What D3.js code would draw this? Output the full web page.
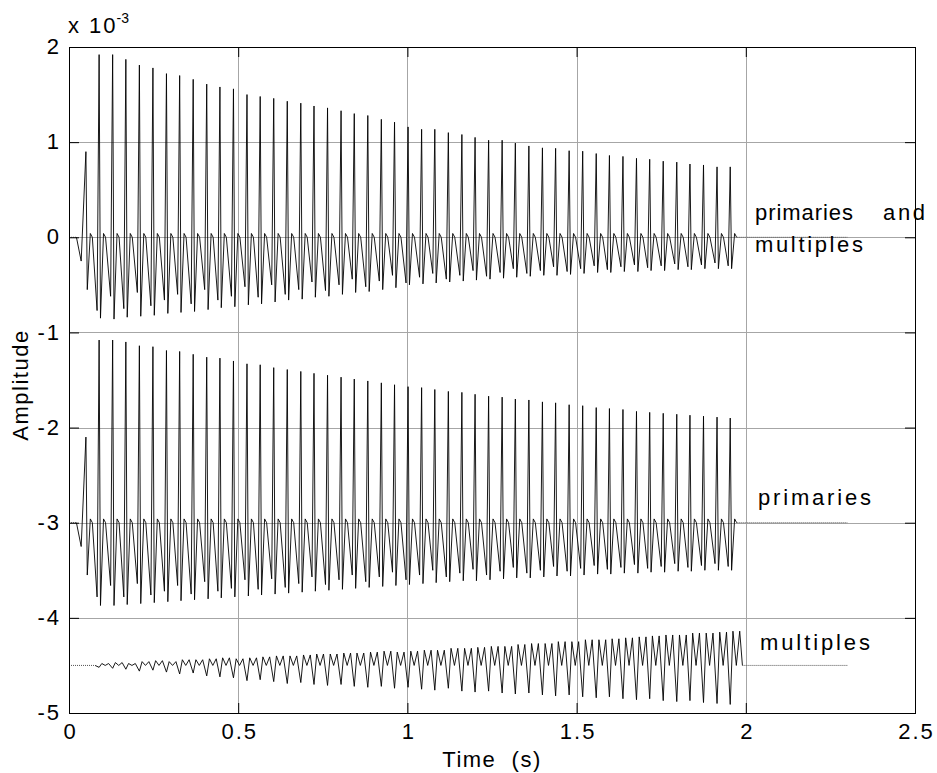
<!DOCTYPE html>
<html>
<head>
<meta charset="utf-8">
<script src="https://cdn.jsdelivr.net/npm/d3@7"></script>
<style>
  body { margin: 0; background: #fff; }
  text { font-family: "Liberation Sans", Arial, Helvetica, sans-serif; fill: #000; }
</style>
</head>
<body>
<svg id="chart" width="937" height="773"></svg>
<script>
// ---- data (amplitudes in units of 1e-3) ----
const xTicks = [0, 0.5, 1, 1.5, 2, 2.5];
const xTickLabels = ["0", "0.5", "1", "1.5", "2", "2.5"];
const yTicks = [-5, -4, -3, -2, -1, 0, 1, 2];
const yTickLabels = ["-5", "-4", "-3", "-2", "-1", "0", "1", "2"];

// arrival time of each reverberation spike (s)
const spikeTimes = [0.050, 0.089, 0.129, 0.168, 0.208, 0.248, 0.288, 0.327, 0.367, 0.407,
  0.446, 0.486, 0.526, 0.565, 0.605, 0.645, 0.685, 0.724, 0.764, 0.804,
  0.843, 0.883, 0.923, 0.962, 1.002, 1.042, 1.081, 1.121, 1.161, 1.200,
  1.240, 1.280, 1.319, 1.359, 1.399, 1.438, 1.478, 1.518, 1.558, 1.597,
  1.637, 1.677, 1.716, 1.756, 1.796, 1.835, 1.875, 1.915, 1.954];

// primaries and multiples: spike peak, trough after the spike, trough before the spike
const mixedPeak = [0.90, 1.92, 1.92, 1.87, 1.81, 1.78, 1.72, 1.70, 1.66, 1.61,
  1.58, 1.56, 1.50, 1.48, 1.46, 1.43, 1.41, 1.38, 1.36, 1.33,
  1.30, 1.28, 1.24, 1.21, 1.16, 1.135, 1.135, 1.10, 1.08, 1.05,
  1.02, 1.02, 0.99, 0.96, 0.94, 0.935, 0.91, 0.905, 0.88, 0.86,
  0.85, 0.83, 0.82, 0.80, 0.79, 0.77, 0.76, 0.74, 0.74];
const mixedTroughAfter = [-0.55, -0.85, -0.86, -0.84, -0.83, -0.82, -0.80, -0.79, -0.78, -0.76,
  -0.74, -0.73, -0.71, -0.70, -0.68, -0.66, -0.65, -0.63, -0.62, -0.60,
  -0.58, -0.57, -0.55, -0.53, -0.50, -0.49, -0.48, -0.47, -0.46, -0.45,
  -0.44, -0.43, -0.42, -0.41, -0.40, -0.40, -0.39, -0.38, -0.37, -0.37,
  -0.36, -0.36, -0.35, -0.35, -0.34, -0.34, -0.33, -0.33, -0.33];
const mixedTroughBefore = [-0.25, -0.77, -0.62, -0.75, -0.58, -0.72, -0.66, -0.60, -0.70, -0.55,
  -0.66, -0.62, -0.52, -0.63, -0.50, -0.60, -0.55, -0.47, -0.56, -0.50,
  -0.44, -0.52, -0.46, -0.40, -0.48, -0.42, -0.38, -0.44, -0.40, -0.35,
  -0.41, -0.37, -0.33, -0.38, -0.35, -0.31, -0.36, -0.33, -0.30, -0.34,
  -0.31, -0.29, -0.32, -0.30, -0.28, -0.31, -0.29, -0.27, -0.30];

// primaries only
const primPeak = [0.90, 1.92, 1.92, 1.90, 1.86, 1.85, 1.81, 1.80, 1.77, 1.74,
  1.73, 1.70, 1.67, 1.66, 1.63, 1.61, 1.59, 1.57, 1.55, 1.53,
  1.51, 1.49, 1.47, 1.45, 1.43, 1.42, 1.40, 1.38, 1.37, 1.35,
  1.33, 1.32, 1.30, 1.29, 1.27, 1.26, 1.24, 1.23, 1.21, 1.20,
  1.19, 1.17, 1.16, 1.15, 1.14, 1.13, 1.12, 1.11, 1.10];
const primTroughAfter = [-0.55, -0.87, -0.87, -0.86, -0.85, -0.84, -0.83, -0.82, -0.81, -0.80,
  -0.79, -0.78, -0.77, -0.76, -0.75, -0.74, -0.73, -0.72, -0.71, -0.70,
  -0.69, -0.68, -0.67, -0.66, -0.65, -0.64, -0.63, -0.62, -0.61, -0.61,
  -0.60, -0.59, -0.58, -0.58, -0.57, -0.56, -0.56, -0.55, -0.54, -0.54,
  -0.53, -0.53, -0.52, -0.52, -0.51, -0.51, -0.50, -0.50, -0.50];
const primTroughBefore = [-0.25, -0.78, -0.66, -0.78, -0.64, -0.76, -0.72, -0.66, -0.75, -0.62,
  -0.72, -0.69, -0.60, -0.70, -0.59, -0.68, -0.64, -0.57, -0.65, -0.60,
  -0.55, -0.62, -0.57, -0.52, -0.60, -0.55, -0.50, -0.57, -0.53, -0.49,
  -0.55, -0.51, -0.47, -0.53, -0.50, -0.46, -0.51, -0.48, -0.45, -0.49,
  -0.47, -0.44, -0.48, -0.46, -0.43, -0.47, -0.45, -0.43, -0.46];

// multiples only: dip at each spike time, hump between spikes
const multDown = [0, -0.02, -0.03, -0.04, -0.06, -0.05, -0.07, -0.09, -0.08, -0.11,
  -0.12, -0.13, -0.16, -0.15, -0.17, -0.19, -0.18, -0.20, -0.21, -0.20,
  -0.22, -0.23, -0.22, -0.24, -0.23, -0.25, -0.26, -0.24, -0.27, -0.28,
  -0.27, -0.29, -0.30, -0.29, -0.31, -0.32, -0.31, -0.33, -0.34, -0.33,
  -0.35, -0.36, -0.35, -0.37, -0.38, -0.37, -0.39, -0.40, -0.41];
const multUp = [0, 0.02, 0.03, 0.02, 0.04, 0.05, 0.04, 0.06, 0.06, 0.07,
  0.08, 0.07, 0.08, 0.09, 0.10, 0.10, 0.11, 0.12, 0.12, 0.13,
  0.13, 0.14, 0.15, 0.14, 0.15, 0.16, 0.16, 0.18, 0.18, 0.19,
  0.20, 0.20, 0.22, 0.23, 0.23, 0.25, 0.25, 0.27, 0.27, 0.28,
  0.29, 0.30, 0.31, 0.32, 0.32, 0.34, 0.34, 0.35, 0.36];

const traceOffsets = { mixed: 0, primaries: -3, multiples: -4.5 };
const recordEnd = 2.3;

// ---- layout ----
const plot = { left: 69, right: 915, top: 47, bottom: 713 };
const svg = d3.select("#chart");
const x = d3.scaleLinear().domain([0, 2.5]).range([plot.left, plot.right]);
const y = d3.scaleLinear().domain([-5, 2]).range([plot.bottom, plot.top]);
const FONT = 22;

// ---- grid ----
const grid = svg.append("g").attr("stroke", "#a6a6a6").attr("stroke-width", 1);
grid.selectAll("line.vx").data(xTicks.slice(1, -1)).join("line")
  .attr("x1", d => Math.round(x(d)) + 0.5).attr("x2", d => Math.round(x(d)) + 0.5)
  .attr("y1", plot.top).attr("y2", plot.bottom);
grid.selectAll("line.hy").data(yTicks.slice(1, -1)).join("line")
  .attr("y1", d => Math.round(y(d)) + 0.5).attr("y2", d => Math.round(y(d)) + 0.5)
  .attr("x1", plot.left).attr("x2", plot.right);

// ---- traces ----
// spike cycle: trough before -> peak -> trough after -> small hook -> zero
function spikeTrace(peak, after, before) {
  const pts = [{ t: 0, v: 0 }, { t: spikeTimes[0] - 0.028, v: 0 }];
  spikeTimes.forEach((s, k) => {
    pts.push({ t: s - (k === 0 ? 0.014 : 0.006), v: before[k] });
    pts.push({ t: s, v: peak[k] });
    pts.push({ t: s + 0.004, v: after[k] });
    pts.push({ t: s + 0.013, v: 0.04 });
    pts.push({ t: s + 0.019, v: 0 });
  });
  return pts;
}
function multipleTrace(down, up) {
  const pts = [{ t: 0, v: 0 }, { t: spikeTimes[1] - 0.012, v: 0 }];
  spikeTimes.forEach((s, k) => {
    if (k === 0) return;
    pts.push({ t: s, v: down[k] });
    pts.push({ t: s + 0.008, v: up[k] });
    pts.push({ t: s + 0.018, v: 0 });
    pts.push({ t: s + 0.028, v: up[k] });
  });
  pts.push({ t: spikeTimes[spikeTimes.length - 1] + 0.036, v: 0 });
  return pts;
}

const traces = [
  { name: "mixed", pts: spikeTrace(mixedPeak, mixedTroughAfter, mixedTroughBefore) },
  { name: "primaries", pts: spikeTrace(primPeak, primTroughAfter, primTroughBefore) },
  { name: "multiples", pts: multipleTrace(multDown, multUp) }
];

const g = svg.append("g");
traces.forEach(tr => {
  const off = traceOffsets[tr.name];
  const line = d3.line().x(d => x(d.t)).y(d => y(d.v + off));
  const pts = tr.pts;
  const last = pts[pts.length - 1];
  // quiet leading segment
  g.append("path").attr("d", line([pts[0], pts[1]]))
    .attr("fill", "none").attr("stroke", "#555").attr("stroke-width", 1)
    .attr("stroke-dasharray", "1,1");
  g.append("path").attr("d", line(pts.slice(1)))
    .attr("fill", "none").attr("stroke", "#000").attr("stroke-width", 0.9);
  // quiet trailing segment
  g.append("path").attr("d", line([last, { t: recordEnd, v: 0 }]))
    .attr("fill", "none").attr("stroke", "#555").attr("stroke-width", 1)
    .attr("stroke-dasharray", "1,1");
});

// ---- axes (inward ticks on all four sides) ----
const tick = 10;
const axBottom = svg.append("g").attr("transform", `translate(0,${plot.bottom})`)
  .call(d3.axisBottom(x).tickValues(xTicks).tickSizeInner(-tick).tickSizeOuter(0)
    .tickPadding(10).tickFormat((d, i) => xTickLabels[i]));
const axTop = svg.append("g").attr("transform", `translate(0,${plot.top})`)
  .call(d3.axisTop(x).tickValues(xTicks).tickSizeInner(-tick).tickSizeOuter(0).tickFormat(""));
const axLeft = svg.append("g").attr("transform", `translate(${plot.left},0)`)
  .call(d3.axisLeft(y).tickValues(yTicks).tickSizeInner(-tick).tickSizeOuter(0)
    .tickPadding(10).tickFormat((d, i) => yTickLabels[i]));
const axRight = svg.append("g").attr("transform", `translate(${plot.right},0)`)
  .call(d3.axisRight(y).tickValues(yTicks).tickSizeInner(-tick).tickSizeOuter(0).tickFormat(""));
[axBottom, axTop, axLeft, axRight].forEach(a => {
  a.select(".domain").remove();
  a.selectAll("line").attr("stroke", "#000");
  a.selectAll("text").attr("font-size", FONT).attr("font-family", null)
    .attr("letter-spacing", 2);
});
// keep centred labels centred despite the trailing letter gap
axBottom.selectAll("text").attr("dx", 1);
axLeft.selectAll("text").attr("dx", 2).attr("dy", "0.3em");

svg.append("rect").attr("x", plot.left + 0.5).attr("y", plot.top + 0.5)
  .attr("width", plot.right - plot.left).attr("height", plot.bottom - plot.top)
  .attr("fill", "none").attr("stroke", "#000").attr("stroke-width", 1);

// ---- labels ----
const expo = svg.append("text").attr("x", 68).attr("y", 33).attr("font-size", FONT)
  .attr("letter-spacing", 2);
expo.append("tspan").text("x 10");
expo.append("tspan").attr("dx", -1).attr("dy", -10).attr("font-size", 14)
  .attr("letter-spacing", 0).text("-3");

svg.append("text").attr("transform", `translate(28,385) rotate(-90)`)
  .attr("text-anchor", "middle").attr("font-size", FONT).attr("letter-spacing", 1.5)
  .text("Amplitude");
svg.append("text").attr("x", (plot.left + plot.right) / 2).attr("y", 767)
  .attr("text-anchor", "middle").attr("font-size", FONT).attr("letter-spacing", 1.5)
  .style("white-space", "pre").text("Time  (s)");

// trace annotations
const notes = [
  { text: "primaries", x: 755, y: 220, len: 98 },
  { text: "and", x: 883, y: 220, len: 42 },
  { text: "multiples", x: 755, y: 252, len: 108 },
  { text: "primaries", x: 758, y: 505, len: 113 },
  { text: "multiples", x: 760, y: 650, len: 110 }
];
svg.selectAll("text.note").data(notes).join("text").attr("class", "note")
  .attr("x", d => d.x).attr("y", d => d.y).attr("font-size", FONT)
  .attr("textLength", d => d.len).attr("lengthAdjust", "spacing")
  .text(d => d.text);
</script>
</body>
</html>
